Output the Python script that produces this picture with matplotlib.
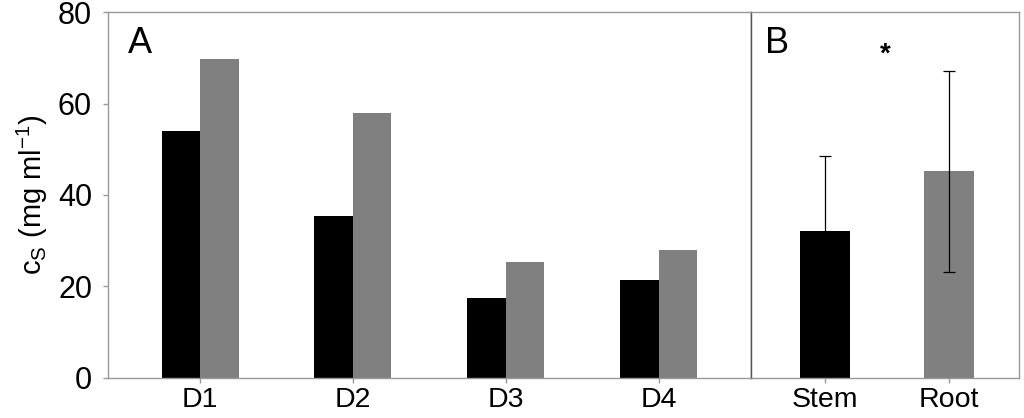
import matplotlib
matplotlib.use("Agg")
import matplotlib.pyplot as plt
import numpy as np

plt.rcParams['font.family'] = ['Liberation Sans', 'DejaVu Sans']
plt.rcParams['mathtext.fontset'] = 'custom'
plt.rcParams['mathtext.rm'] = 'Liberation Sans'

# Panel A data
days = ["D1", "D2", "D3", "D4"]
series_black = [54.1, 35.4, 17.4, 21.4]
series_gray = [69.7, 57.9, 25.3, 28.0]

# Panel B data
organs = ["Stem", "Root"]
organ_vals = [32.1, 45.2]
organ_err = [16.5, 22.0]

yticks = [0, 20, 40, 60, 80]

W, H = 1024, 418
fig = plt.figure(figsize=(W / 100, H / 100), dpi=100)

left, sep, right = 108 / W, 750.5 / W, 1018.5 / W
bottom, top = 1 - 377.7 / H, 1 - 12.3 / H

axA = fig.add_axes([left, bottom, sep - left, top - bottom])
axB = fig.add_axes([sep, bottom, right - sep, top - bottom], sharey=axA)

spine_col = '#999999'
sep_col = '#555555'

# Panel A
x = np.arange(len(days))
bw = 0.252
axA.bar(x - bw / 2, series_black, width=bw, color='black', linewidth=0)
axA.bar(x + bw / 2, series_gray, width=bw, color='#808080', linewidth=0)
axA.set_xlim(-0.602, 3.6)
axA.set_ylim(0, 80)
axA.set_xticks(x)
axA.set_xticklabels(days)
axA.set_yticks(yticks)

# Panel B
xb = np.arange(len(organs))
bwb = 0.407
axB.bar(xb, organ_vals, width=bwb, color=['black', '#808080'], linewidth=0)
axB.errorbar(xb, organ_vals, yerr=organ_err, fmt='none', ecolor='black',
             elinewidth=0.9, capsize=4.3, capthick=0.9)
axB.set_xlim(-0.602, 1.564)
axB.set_xticks(xb)
axB.set_xticklabels(organs)
axB.tick_params(axis='y', left=False, labelleft=False)

for ax in (axA, axB):
    for s in ax.spines.values():
        s.set_color(spine_col)
        s.set_linewidth(1.0)
    ax.tick_params(axis='both', colors=spine_col, labelcolor='black',
                   labelsize=22, length=3.5, width=1.0, direction='out')
    ax.tick_params(axis='x', pad=3, labelsize=20.5)
    ax.tick_params(axis='y', pad=8)

axA.spines['right'].set_color(sep_col)
axB.spines['left'].set_color(sep_col)

axA.set_ylabel(r'$\mathregular{c_S}$ (mg ml$^{-1}$)', fontsize=21, labelpad=6)

axA.text(128 / W, 1 - 53 / H, 'A', transform=fig.transFigure, fontsize=26,
         ha='left', va='baseline')
axB.text(765 / W, 1 - 53 / H, 'B', transform=fig.transFigure, fontsize=26,
         ha='left', va='baseline')
axB.text(0.486, 70.8, '*', fontsize=20, fontweight='bold', ha='center', va='center')

fig.savefig('out.png', dpi=100)
